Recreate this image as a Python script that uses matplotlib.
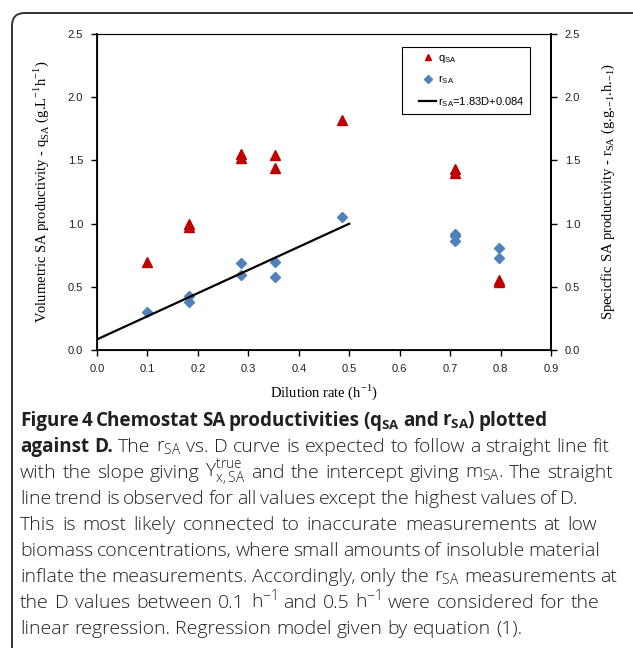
import matplotlib
matplotlib.use('Agg')
import matplotlib.pyplot as plt
from matplotlib.patches import FancyBboxPatch
from matplotlib.lines import Line2D
from matplotlib.legend_handler import HandlerLine2D

# data
D_q = [0.10, 0.183, 0.183, 0.286, 0.286, 0.352, 0.352, 0.485, 0.71, 0.71, 0.797, 0.797]
q_SA = [0.70, 1.00, 0.97, 1.55, 1.52, 1.54, 1.44, 1.82, 1.43, 1.40, 0.55, 0.54]

D_r = [0.10, 0.183, 0.183, 0.286, 0.286, 0.352, 0.352, 0.485, 0.71, 0.71, 0.71, 0.797, 0.797]
r_SA = [0.30, 0.43, 0.38, 0.69, 0.59, 0.70, 0.58, 1.05, 0.92, 0.90, 0.86, 0.81, 0.73]

fit_D = [0.0, 0.5]
slope = 1.83
intercept = 0.084

x_ticks = [0.0, 0.1, 0.2, 0.3, 0.4, 0.5, 0.6, 0.7, 0.8, 0.9]
y_ticks = [0.0, 0.5, 1.0, 1.5, 2.0, 2.5]

W, H = 633, 648
fig = plt.figure(figsize=(W / 100, H / 100), dpi=100)

# rounded frame around the figure
frame = FancyBboxPatch((12 / W, -0.2), 1.2, 1 - 13 / H + 0.2,
                       boxstyle='round,pad=0,rounding_size=0.02',
                       transform=fig.transFigure, fill=False,
                       edgecolor='#333333', linewidth=1.4)
fig.patches.append(frame)

ax = fig.add_axes([97 / W, 1 - 350 / H, 454 / W, 316 / H])
ax.plot(D_q, q_SA, linestyle='none', marker='^', color='#C00000', markersize=6.5)
ax.plot(D_r, r_SA, linestyle='none', marker='D', color='#4F81BD', markersize=5.5)
fit_y = [slope * d + intercept for d in fit_D]
ax.plot(fit_D, fit_y, color='black', linewidth=1.6)

ax.set_xlim(0, 0.9)
ax.set_ylim(0, 2.5)
ax.set_xticks(x_ticks)
ax.set_yticks(y_ticks)
ax.set_xticklabels(['%.1f' % t for t in x_ticks])
ax.set_yticklabels(['%.1f' % t for t in y_ticks])
for lab in ax.get_xticklabels() + ax.get_yticklabels():
    lab.set_family('Liberation Sans')
    lab.set_fontsize(8)
    lab.set_color('#222222')
ax.tick_params(direction='out', length=4, width=1, pad=6)
for s in ['left', 'bottom', 'right']:
    ax.spines[s].set_linewidth(1.3)
ax.spines['top'].set_color('#666666')
ax.spines['top'].set_linewidth(0.8)

ax2 = ax.twinx()
ax2.set_ylim(0, 2.5)
ax2.set_yticks(y_ticks)
ax2.set_yticklabels(['%.1f' % t for t in y_ticks], family='Liberation Sans',
                    fontsize=8, color='#222222')
ax2.tick_params(direction='out', length=4, width=1, pad=6)
ax2.spines['right'].set_linewidth(1.3)

serif = 'Liberation Serif'
ax.set_xlabel(r'Dilution rate (h$^{\mathregular{-1}}$)', family=serif, fontsize=10.5, labelpad=6)
ax.set_ylabel(r'Volumetric SA productivity - q$_{\mathregular{SA}}$ (g.L$^{\mathregular{-1}}$h$^{\mathregular{-1}}$)',
              family=serif, fontsize=10.5, labelpad=12)
ax2.set_ylabel(r'Specicfic SA productivity - r$_{\mathregular{SA}}$ (g.g.$_{\mathregular{-1}}$.h.$_{\mathregular{-1}}$)',
               family=serif, fontsize=10.5, labelpad=14)

handles = [
    Line2D([], [], linestyle='none', marker='^', color='#C00000', markersize=5),
    Line2D([], [], linestyle='none', marker='D', color='#4F81BD', markersize=4),
    Line2D([], [], color='black', linewidth=1.6),
]
labels = [r'q$_{\mathregular{SA}}$', r'r$_{\mathregular{SA}}$',
          r'r$_{\mathregular{SA}}$=1.83D+0.084']
hmap = {h: HandlerLine2D(xpad=1.0) for h in handles}
leg = ax.legend(handles, labels, loc='upper left',
                bbox_to_anchor=((402 - 97) / 454, (350 - 47) / 316),
                prop={'family': 'Liberation Sans', 'size': 8}, fancybox=False,
                edgecolor='black', framealpha=1, handlelength=2.6,
                labelspacing=0.8, borderpad=0.5, handletextpad=0.1,
                borderaxespad=0, handler_map=hmap)
leg.get_frame().set_linewidth(0.8)

# caption: (text, bold) segments per line, plus where each line ends in the reference
cap_font = 'Open Sans'
cap_color = '#231f20'
cap_lines = [
    [(r'Figure 4 Chemostat SA productivities (q$_{\mathregular{SA}}$ and r$_{\mathregular{SA}}$) plotted', True)],
    [('against D.', True), (r'The r$_{\mathregular{SA}}$ vs. D curve is expected to follow a straight line fit', False)],
    [(r'with the slope giving Y$^{\mathregular{true}}_{\mathregular{x,SA}}$ and the intercept giving m$_{\mathregular{SA}}$. The straight', False)],
    [('line trend is observed for all values except the highest values of D.', False)],
    [('This is most likely connected to inaccurate measurements at low', False)],
    [('biomass concentrations, where small amounts of insoluble material', False)],
    [(r'inflate the measurements. Accordingly, only the r$_{\mathregular{SA}}$ measurements at', False)],
    [('the D values between 0.1 h$^{\\mathregular{\u22121}}$ and 0.5 h$^{\\mathregular{\u22121}}$ were considered for the', False)],
    [('linear regression. Regression model given by equation (1).', False)],
]
line_ends = [548, 610, 613, 578, 597, 600, 617, 600, None]

renderer = fig.canvas.get_renderer()
x_left = 20
y0 = 426
space = 5.0
for i, segs in enumerate(cap_lines):
    y = 1 - (y0 + i * 26) / H
    words = []
    for txt, bold in segs:
        for w in txt.split(' '):
            t = fig.text(0, y, w, family=cap_font,
                         fontsize=13.6 if bold else 14.0,
                         fontweight='bold' if bold else 'light', color=cap_color,
                         va='baseline', ha='left')
            words.append((t, t.get_window_extent(renderer).width))
    total = sum(wd for _, wd in words)
    if line_ends[i] is None:
        gap = space
    else:
        gap = (line_ends[i] - x_left - total) / max(len(words) - 1, 1)
        gap = min(max(gap, 2.5), 7.5)
    x = x_left
    for t, wd in words:
        t.set_x(x / W)
        x += wd + gap

fig.savefig('out.png', dpi=100)
